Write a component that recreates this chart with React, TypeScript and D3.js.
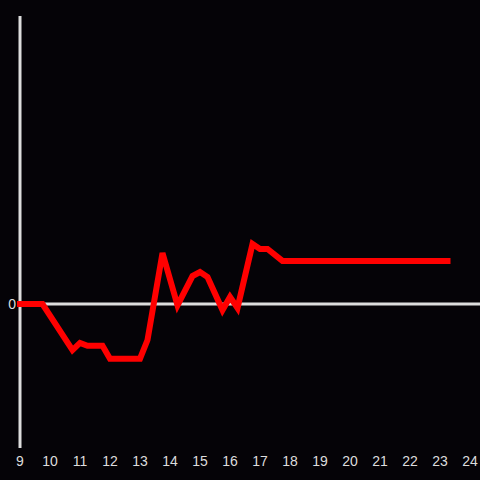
import React from "react";
import * as d3 from "d3";

const hours = [9.0, 9.75, 10.75, 11.0, 11.25, 11.75, 12.0, 13.0, 13.25, 13.75, 14.25, 14.75, 15.0, 15.25, 15.75, 16.0, 16.25, 16.75, 17.0, 17.25, 17.75, 23.25];
const values = [0, 0, -0.32, -0.27, -0.29, -0.29, -0.38, -0.38, -0.25, 0.354, -0.01, 0.194, 0.222, 0.188, -0.042, 0.049, -0.028, 0.417, 0.382, 0.382, 0.299, 0.299];
const xTicks = [9, 10, 11, 12, 13, 14, 15, 16, 17, 18, 19, 20, 21, 22, 23, 24];
const yTicks = [0];

export default function App() {
  const W = 480, H = 480;
  const x = d3.scaleLinear().domain([9, 24]).range([20, 470]);
  const y = d3.scaleLinear().domain([-1, 2]).range([448, 16]);
  const pts: [number, number][] = hours.map((h, i) => [h, values[i]]);
  const line = d3.line<[number, number]>().x(d => x(d[0])).y(d => y(d[1]));
  const font = "'Liberation Sans', Arial, sans-serif";
  return (
    <svg width={W} height={H} style={{ position: "absolute", left: 0, top: 0, background: "#050307" }}>
      <rect x={0} y={0} width={W} height={H} fill="#050307" />
      <line x1={x(9)} x2={480} y1={y(0)} y2={y(0)} stroke="#dddddd" strokeWidth={3} />
      <line x1={x(9)} x2={x(9)} y1={16} y2={448} stroke="#dddddd" strokeWidth={3} />
      <path d={line(pts) || ""} fill="none" stroke="#ff0000" strokeWidth={6} strokeLinecap="square" strokeLinejoin="miter" />
      {xTicks.map(t => (
        <text key={t} x={x(t)} y={466} textAnchor="middle" fill="#dddddd" fontSize={14} fontFamily={font}>{t}</text>
      ))}
      {yTicks.map(t => (
        <text key={t} x={16} y={y(t) + 5} textAnchor="end" fill="#dddddd" fontSize={14} fontFamily={font}>{t}</text>
      ))}
    </svg>
  );
}
